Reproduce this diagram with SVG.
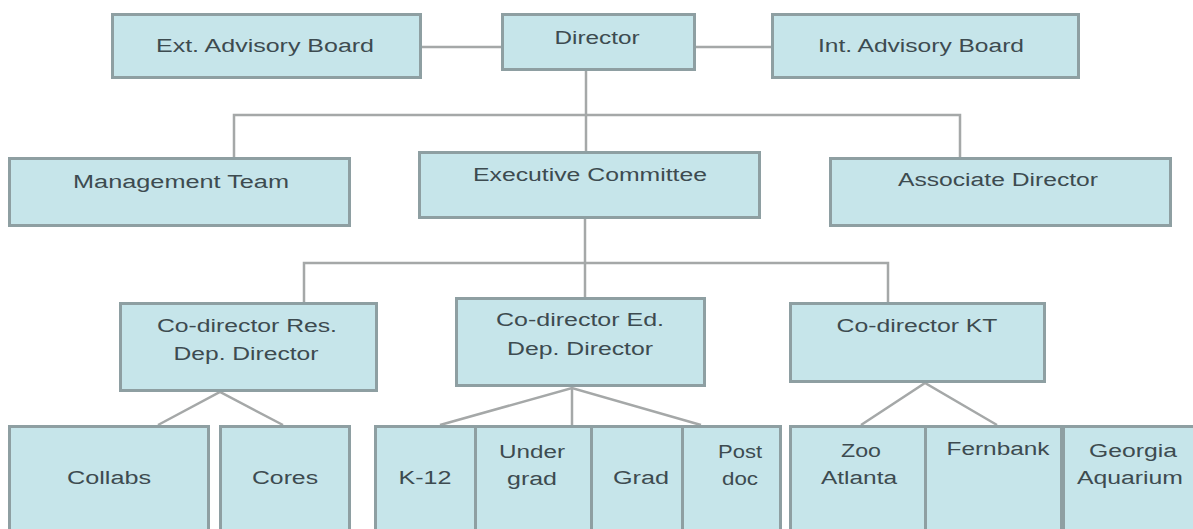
<svg xmlns="http://www.w3.org/2000/svg" width="1193" height="529" viewBox="0 0 1193 529">
<style>
.box{fill:#c6e5ea;stroke:#8e9fa2;stroke-width:3}
.t{font-family:"Liberation Sans",Arial,sans-serif;font-size:18px;fill:#3d4b50;text-anchor:middle}
.ln{stroke:#a5a8a8;stroke-width:2.5;fill:none}
</style>
<rect width="1193" height="529" fill="#ffffff"/>
<g id="connectors">
<line class="ln" x1="422" y1="47" x2="501" y2="47"/>
<line class="ln" x1="696" y1="47" x2="771" y2="47"/>
<line class="ln" x1="586" y1="71" x2="586" y2="151"/>
<polyline class="ln" points="234,157 234,115 960,115 960,157"/>
<line class="ln" x1="585" y1="219" x2="585" y2="297"/>
<polyline class="ln" points="304,302 304,263 888,263 888,302"/>
<polyline class="ln" points="158,425 220,392 283,425"/>
<polyline class="ln" points="440,425 572,388 701,425"/>
<line class="ln" x1="572" y1="388" x2="572" y2="425"/>
<polyline class="ln" points="861,425 925,383 997,425"/>
</g>
<g id="ext-advisory-board"><rect class="box" x="112.5" y="14.5" width="308" height="63"/><text class="t" x="265" y="52" textLength="218" lengthAdjust="spacingAndGlyphs">Ext. Advisory Board</text></g>
<g id="director"><rect class="box" x="502.5" y="14.5" width="192" height="55"/><text class="t" x="597" y="44" textLength="85" lengthAdjust="spacingAndGlyphs">Director</text></g>
<g id="int-advisory-board"><rect class="box" x="772.5" y="14.5" width="306" height="63"/><text class="t" x="921" y="52" textLength="206" lengthAdjust="spacingAndGlyphs">Int. Advisory Board</text></g>
<g id="management-team"><rect class="box" x="9.5" y="158.5" width="340" height="67"/><text class="t" x="181" y="188" textLength="216" lengthAdjust="spacingAndGlyphs">Management Team</text></g>
<g id="executive-committee"><rect class="box" x="419.5" y="152.5" width="340" height="65"/><text class="t" x="590" y="181" textLength="234" lengthAdjust="spacingAndGlyphs">Executive Committee</text></g>
<g id="associate-director"><rect class="box" x="830.5" y="158.5" width="340" height="67"/><text class="t" x="998" y="186" textLength="200" lengthAdjust="spacingAndGlyphs">Associate Director</text></g>
<g id="codirector-res"><rect class="box" x="120.5" y="303.5" width="256" height="87"/><text class="t" x="247" y="332" textLength="180" lengthAdjust="spacingAndGlyphs">Co-director Res.</text><text class="t" x="246" y="360" textLength="145" lengthAdjust="spacingAndGlyphs">Dep. Director</text></g>
<g id="codirector-ed"><rect class="box" x="456.5" y="298.5" width="248" height="87"/><text class="t" x="580" y="326" textLength="168" lengthAdjust="spacingAndGlyphs">Co-director Ed.</text><text class="t" x="580" y="355" textLength="146" lengthAdjust="spacingAndGlyphs">Dep. Director</text></g>
<g id="codirector-kt"><rect class="box" x="790.5" y="303.5" width="254" height="78"/><text class="t" x="917" y="332" textLength="161" lengthAdjust="spacingAndGlyphs">Co-director KT</text></g>
<g id="collabs"><rect class="box" x="9.5" y="426.5" width="199" height="110"/><text class="t" x="109" y="484" textLength="84" lengthAdjust="spacingAndGlyphs">Collabs</text></g>
<g id="cores"><rect class="box" x="220.5" y="426.5" width="129" height="110"/><text class="t" x="285" y="484" textLength="66" lengthAdjust="spacingAndGlyphs">Cores</text></g>
<g id="k12"><rect class="box" x="375.5" y="426.5" width="100" height="110"/><text class="t" x="425" y="484" textLength="53" lengthAdjust="spacingAndGlyphs">K-12</text></g>
<g id="undergrad"><rect class="box" x="475.5" y="426.5" width="116" height="110"/><text class="t" x="532" y="458" textLength="66" lengthAdjust="spacingAndGlyphs">Under</text><text class="t" x="532" y="485" textLength="50" lengthAdjust="spacingAndGlyphs">grad</text></g>
<g id="grad"><rect class="box" x="591.5" y="426.5" width="91" height="110"/><text class="t" x="641" y="484" textLength="56" lengthAdjust="spacingAndGlyphs">Grad</text></g>
<g id="postdoc"><rect class="box" x="682.5" y="426.5" width="98" height="110"/><text class="t" x="740" y="458" textLength="44" lengthAdjust="spacingAndGlyphs">Post</text><text class="t" x="740" y="485" textLength="36" lengthAdjust="spacingAndGlyphs">doc</text></g>
<g id="zoo-atlanta"><rect class="box" x="790.5" y="426.5" width="135" height="110"/><text class="t" x="861" y="457" textLength="40" lengthAdjust="spacingAndGlyphs">Zoo</text><text class="t" x="859" y="484" textLength="76" lengthAdjust="spacingAndGlyphs">Atlanta</text></g>
<g id="fernbank"><rect class="box" x="925.5" y="426.5" width="136" height="110"/><text class="t" x="998" y="455" textLength="103" lengthAdjust="spacingAndGlyphs">Fernbank</text></g>
<g id="georgia-aquarium"><rect class="box" x="1063.5" y="426.5" width="140" height="110"/><text class="t" x="1133" y="457" textLength="88" lengthAdjust="spacingAndGlyphs">Georgia</text><text class="t" x="1130" y="484" textLength="106" lengthAdjust="spacingAndGlyphs">Aquarium</text></g>
</svg>
